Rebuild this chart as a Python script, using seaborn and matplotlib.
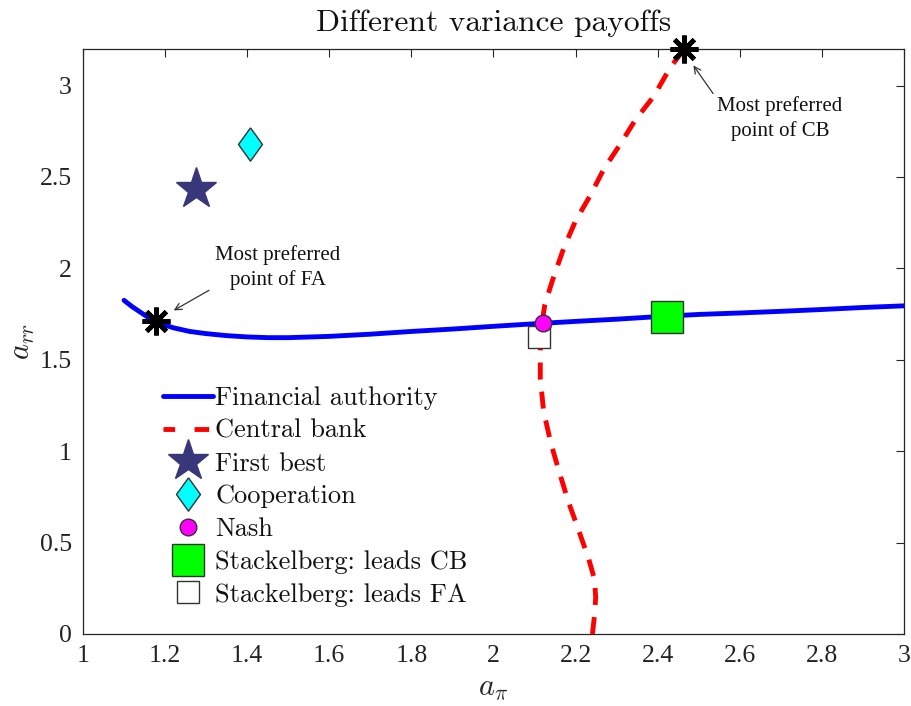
import matplotlib
matplotlib.use("Agg")
import matplotlib.pyplot as plt
import seaborn as sns
from matplotlib.lines import Line2D

# ---------------- data ----------------
fa_x = [1.10, 1.12, 1.14, 1.16, 1.18, 1.22, 1.26, 1.30, 1.35, 1.40, 1.45, 1.50,
        1.60, 1.70, 1.80, 1.90, 2.00, 2.10, 2.20, 2.30, 2.40, 2.50, 2.60, 2.70,
        2.80, 2.90, 3.00]
fa_y = [1.825, 1.79, 1.76, 1.73, 1.705, 1.675, 1.655, 1.643, 1.632, 1.625, 1.621,
        1.621, 1.628, 1.640, 1.655, 1.668, 1.683, 1.697, 1.710, 1.722, 1.736,
        1.748, 1.756, 1.765, 1.775, 1.786, 1.795]

cb_x = [2.241, 2.246, 2.249, 2.246, 2.232, 2.207, 2.183, 2.161, 2.139, 2.122,
        2.114, 2.114, 2.118, 2.125, 2.143, 2.171, 2.200, 2.236, 2.268, 2.309,
        2.345, 2.390, 2.431, 2.465]
cb_y = [0.00, 0.10, 0.20, 0.30, 0.41, 0.57, 0.72, 0.88, 1.05, 1.22,
        1.40, 1.55, 1.70, 1.80, 1.93, 2.11, 2.26, 2.40, 2.54, 2.68,
        2.81, 2.94, 3.10, 3.20]

first_best = (1.275, 2.436)
cooperation = (1.407, 2.678)
nash = (2.121, 1.702)
stackelberg_cb = (2.422, 1.735)
stackelberg_fa = (2.112, 1.625)
fa_preferred = (1.178, 1.71)
cb_preferred = (2.465, 3.20)

x_ticks = [1, 1.2, 1.4, 1.6, 1.8, 2, 2.2, 2.4, 2.6, 2.8, 3]
x_tick_labels = ["1", "1.2", "1.4", "1.6", "1.8", "2", "2.2", "2.4", "2.6", "2.8", "3"]
y_ticks = [0, 0.5, 1, 1.5, 2, 2.5, 3]
y_tick_labels = ["0", "0.5", "1", "1.5", "2", "2.5", "3"]

legend_labels = ["Financial authority", "Central bank", "First best", "Cooperation",
                 "Nash", "Stackelberg: leads CB", "Stackelberg: leads FA"]
title_text = "Different variance payoffs"
fa_note = "Most preferred\npoint of FA"
cb_note = "Most preferred\npoint of CB"

# ---------------- style ----------------
sns.set_theme(style="white")
plt.rcParams["font.family"] = ["Liberation Serif", "DejaVu Serif"]
plt.rcParams["mathtext.fontset"] = "cm"
plt.rcParams["axes.edgecolor"] = "#262626"
plt.rcParams["axes.linewidth"] = 0.9

CM = "cmr10"
navy = "#37377a"
diamond = [(0, 1), (0.72, 0), (0, -1), (-0.72, 0), (0, 1)]
asterisk = (8, 2, 0)

fig, ax = plt.subplots(figsize=(9.11, 7.06), dpi=100)
fig.subplots_adjust(left=0.0911, right=0.9923, bottom=0.102, top=0.9306)

sns.lineplot(x=fa_x, y=fa_y, sort=False, estimator=None, color="blue", lw=3.5,
             ax=ax, zorder=2)
sns.lineplot(x=cb_x, y=cb_y, sort=False, estimator=None, color="red", lw=3.5,
             linestyle=(0, (3.5, 2.5)), ax=ax, zorder=2)

ax.plot(*first_best, marker="*", ms=31, color=navy, mec=navy, ls="none", zorder=4)
ax.plot(*cooperation, marker=diamond, ms=24, mfc="cyan", mec="#333333", mew=1.0,
        ls="none", zorder=4)
ax.plot(*stackelberg_fa, marker="s", ms=16.5, mfc="white", mec="#333333", mew=1.0,
        ls="none", zorder=4)
ax.plot(*nash, marker="o", ms=12, mfc="magenta", mec="#333333", mew=1.0,
        ls="none", zorder=5)
ax.plot(*stackelberg_cb, marker="s", ms=22.5, mfc="#00ff00", mec="#333333", mew=1.0,
        ls="none", zorder=4)
ax.plot(*fa_preferred, marker=asterisk, ms=20, mec="black", mew=3.4, ls="none", zorder=6)
ax.plot(*cb_preferred, marker=asterisk, ms=20, mec="black", mew=3.4, ls="none",
        zorder=6, clip_on=False)

# annotations
ax.text(1.474, 2.005, fa_note, ha="center", va="center", fontsize=15,
        linespacing=1.3, color="#111111")
ax.annotate("", xy=(1.221, 1.77), xytext=(1.307, 1.88),
            arrowprops=dict(arrowstyle="->", color="#333333", lw=0.9,
                            shrinkA=0, shrinkB=0))
ax.text(2.698, 2.82, cb_note, ha="center", va="center", fontsize=15,
        linespacing=1.3, color="#111111")
ax.annotate("", xy=(2.487, 3.11), xytext=(2.535, 2.956),
            arrowprops=dict(arrowstyle="->", color="#333333", lw=0.9,
                            shrinkA=0, shrinkB=0))

# axes
ax.set_xlim(1, 3)
ax.set_ylim(0, 3.2)
ax.set_xticks(x_ticks)
ax.set_xticklabels(x_tick_labels)
ax.set_yticks(y_ticks)
ax.set_yticklabels(y_tick_labels)
ax.tick_params(direction="in", length=6, width=0.8, top=True, right=True,
               labelsize=18.5, pad=8, colors="#262626")
for lab in ax.get_xticklabels() + ax.get_yticklabels():
    lab.set_color("#222222")
for s in ax.spines.values():
    s.set_visible(True)
ax.set_xlabel(r"$a_\pi$", fontsize=22, labelpad=4)
ax.set_ylabel(r"$a_{rr}$", fontsize=22, labelpad=2)
ax.set_title(title_text, fontfamily=CM, fontsize=22.7, pad=13, color="#111111")

# legend
handles = [
    Line2D([], [], color="blue", lw=3.5),
    Line2D([], [], color="red", lw=3.5, linestyle=(0.6, (3.0, 4.0))),
    Line2D([], [], marker="*", ms=31, color=navy, ls="none"),
    Line2D([], [], marker=diamond, ms=24, mfc="cyan", mec="#333333", mew=1.0, ls="none"),
    Line2D([], [], marker="o", ms=12, mfc="magenta", mec="#333333", mew=1.0, ls="none"),
    Line2D([], [], marker="s", ms=22.5, mfc="#00ff00", mec="#333333", mew=1.0, ls="none"),
    Line2D([], [], marker="s", ms=16.5, mfc="white", mec="#333333", mew=1.0, ls="none"),
]
leg = ax.legend(handles, legend_labels, loc="upper left", bbox_to_anchor=(0.097, 0.423),
                frameon=False, borderpad=0, borderaxespad=0, handlelength=1.9,
                handletextpad=0.1, labelspacing=0.34, numpoints=1,
                prop={"family": CM, "size": 19})
for t in leg.get_texts():
    t.set_color("#111111")

fig.savefig("out.png", dpi=100)
